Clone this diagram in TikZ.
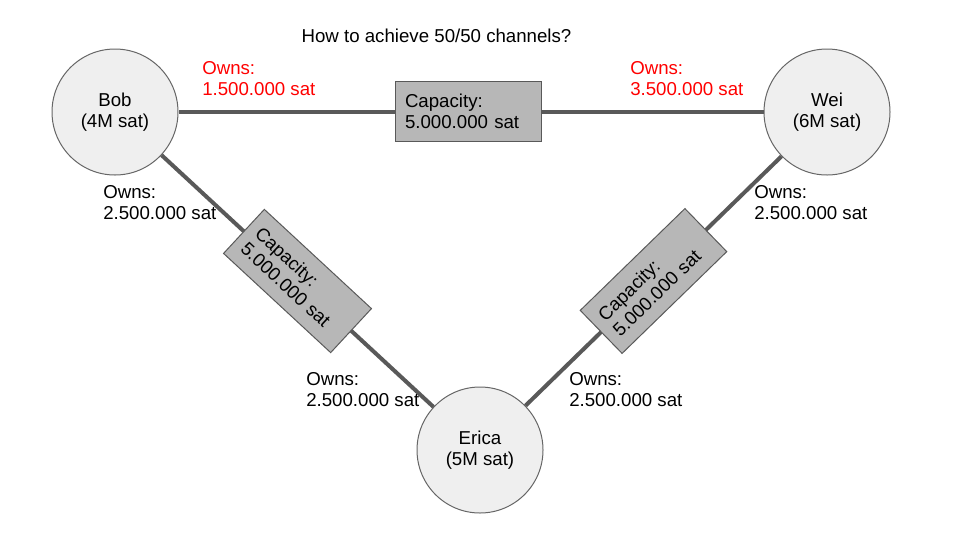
\documentclass[tikz,border=0pt]{standalone}
\usepackage{fontspec}
\setmainfont{Liberation Sans}
\usetikzlibrary{calc}
\definecolor{linegray}{HTML}{595959}
\definecolor{circfill}{HTML}{EFEFEF}
\definecolor{circline}{HTML}{666666}
\definecolor{boxfill}{HTML}{B7B7B7}
\definecolor{ownred}{HTML}{FF0000}
\begin{document}
\begin{tikzpicture}[x=0.75pt,y=-0.75pt,
  every node/.style={font=\fontsize{14pt}{16pt}\selectfont},
  person/.style={circle,draw=circline,line width=0.75pt,fill=circfill,minimum size=94.5pt,inner sep=0pt,align=center},
  capbox/.style={draw=linegray,line width=0.75pt,fill=boxfill,minimum width=109.5pt,minimum height=45pt,inner xsep=7.5pt,inner ysep=0pt,text width=94.5pt,align=left},
  channel/.style={draw=linegray,line width=3pt},
  owns/.style={anchor=north west,inner sep=0pt,align=left},
  ownsred/.style={owns,text=ownred}]
\useasboundingbox (0,0) rectangle (960,540);
\node[anchor=base,inner sep=0pt] (title) at (436.5,42) {How to achieve 50/50 channels?};
\node[person] (bob) at (115,112) {Bob\\(4M sat)};
\node[person] (wei) at (827,112) {Wei\\(6M sat)};
\node[person] (erica) at (480,450) {Erica\\(5M sat)};
\draw[channel] (bob) -- (wei);
\draw[channel] (bob) -- (erica);
\draw[channel] (erica) -- (wei);
\node[capbox] (capbw) at (468,111.5) {Capacity:\\5.000.000 sat};
\node[capbox,rotate=-42.8] (capbe) at ($(bob)!0.5!(erica)$) {Capacity:\\5.000.000 sat};
\node[capbox,rotate=44.2] (capew) at ($(erica)!0.5!(wei)$) {Capacity:\\5.000.000 sat};
\node[ownsred] (o1) at (202,61) {Owns:\\1.500.000 sat};
\node[ownsred] (o2) at (630,61) {Owns:\\3.500.000 sat};
\node[owns] (o3) at (103,185) {Owns:\\2.500.000 sat};
\node[owns] (o4) at (754,185) {Owns:\\2.500.000 sat};
\node[owns] (o5) at (306,372) {Owns:\\2.500.000 sat};
\node[owns] (o6) at (569,372) {Owns:\\2.500.000 sat};
\end{tikzpicture}
\end{document}
